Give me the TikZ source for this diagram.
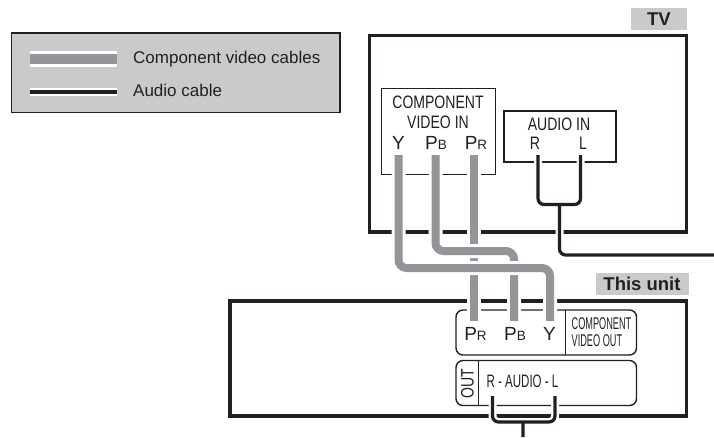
\documentclass[tikz,border=0pt]{standalone}
\usepackage{fontspec}
\setmainfont{Liberation Sans}
\newfontfamily\narrowfont[FakeStretch=0.78]{Liberation Sans}
\newfontfamily\tightfont[FakeStretch=0.64]{Liberation Sans}
\newfontfamily\slimfont[FakeStretch=0.54]{Liberation Sans}
\usepackage{xcolor}
\definecolor{panelgray}{HTML}{C9CACC}
\definecolor{cablegray}{HTML}{939598}
\definecolor{inkdark}{HTML}{231F20}
\tikzset{
  unitline/.style={draw=inkdark,line width=3.4pt,fill=white},
  inputbox/.style={draw=inkdark,line width=0.9pt},
  portbox/.style={draw=inkdark,line width=1.4pt,rounded corners=7pt},
  videocable/.style={draw=white,line width=3pt,double=cablegray,double distance=8pt,rounded corners=8pt},
  audiocable/.style={draw=inkdark,line width=3.2pt,rounded corners=6pt,
    preaction={draw=white,line width=8pt}},
  tag/.style={fill=panelgray,inner sep=0pt,text=inkdark,font=\fontsize{18.5}{18.5}\selectfont\bfseries},
  porttext/.style={text=inkdark,inner sep=0pt,font=\fontsize{19}{19}\selectfont},
  narrowtext/.style={text=inkdark,inner sep=0pt,font=\narrowfont\fontsize{18}{18}\selectfont},
  legendtext/.style={text=inkdark,inner sep=0pt,anchor=west,font=\fontsize{17}{17}\selectfont}
}
\newcommand{\portsub}[2]{#1{\fontsize{13.5}{13.5}\selectfont #2}}
\begin{document}
\begin{tikzpicture}[x=1pt,y=-1pt]
  \useasboundingbox (0,0) rectangle (714,437);
  % legend
  \draw[draw=inkdark,line width=1.1pt,fill=panelgray](11.5,33)rectangle(340,112.5);
  \draw[white,line width=16pt](30,59)--(117,59);
  \draw[cablegray,line width=10pt](30,59)--(117,59);
  \draw[white,line width=8pt](30,92)--(117,92);
  \draw[inkdark,line width=3.6pt](30,92)--(117,92);
  \node[legendtext](legendvideo)at(133,59){Component video cables};
  \node[legendtext](legendaudio)at(133,90.5){Audio cable};
  % TV
  \draw[unitline](369.5,35.5)rectangle(686.5,232);
  \node[tag,minimum width=56pt,minimum height=22pt](tvtag)at(659,19){TV};
  \draw[inputbox](381,88)rectangle(495,174);
  \draw[inkdark,line width=1.6pt](504,111)rectangle(616,162);
  \node[narrowtext,align=center,font=\narrowfont\fontsize{18}{20}\selectfont](videoin)at(438,112){COMPONENT\\VIDEO IN};
  \node[porttext](tvy)at(398.5,143){Y};
  \node[porttext](tvpb)at(436,143){\portsub{P}{B}};
  \node[porttext](tvpr)at(476,143){\portsub{P}{R}};
  \node[narrowtext](audioin)at(559,124.5){AUDIO IN};
  \node[narrowtext](tvr)at(535,143){R};
  \node[narrowtext](tvl)at(583,143){L};
  % this unit
  \draw[unitline](230,301)rectangle(686.5,416);
  \node[tag,minimum width=93pt,minimum height=22pt](unittag)at(642,284){This unit};
  \draw[portbox,fill=white](456,310)rectangle(636.5,355);
  \draw[inkdark,line width=1.4pt](565.5,310)--(565.5,355);
  \draw[portbox,fill=white](456,360.5)rectangle(636.5,405.5);
  \draw[inkdark,line width=1.4pt](478.5,360.5)--(478.5,405.5);
  \node[porttext](unitpr)at(475.5,333.5){\portsub{P}{R}};
  \node[porttext](unitpb)at(515,333.5){\portsub{P}{B}};
  \node[porttext](unity)at(549.5,334){Y};
  \node[text=inkdark,align=left,inner sep=0pt,font=\slimfont\fontsize{17}{17}\selectfont](videoout)at(601.5,332.5){COMPONENT\\VIDEO OUT};
  \node[narrowtext,rotate=90](outlabel)at(467.5,383.5){OUT};
  \node[text=inkdark,inner sep=0pt,font=\tightfont\fontsize{18}{18}\selectfont](audioout)at(522.5,381.5){R - AUDIO - L};
  % cables
  \coordinate(ytop)at(398.5,155);
  \coordinate(pbtop)at(435.5,155);
  \coordinate(prtop)at(474,155);
  \coordinate(ybot)at(550,321);
  \coordinate(pbbot)at(514,321);
  \coordinate(prbot)at(474,321);
  \draw[videocable](prtop)--(prbot);
  \draw[videocable](pbtop)|-(475,251)-|(pbbot);
  \draw[videocable](ytop)|-(475,268)-|(ybot);
  \coordinate(tvaudior)at(538,155);
  \coordinate(tvaudiol)at(580.5,155);
  \coordinate(tvjoin)at(559.5,204.5);
  \coordinate(tvrun)at(714,255);
  \draw[audiocable](tvaudior)|-(tvjoin)-|(tvaudiol)(tvjoin)|-(tvrun);
  \coordinate(outr)at(492.5,396);
  \coordinate(outl)at(555,396);
  \coordinate(outjoin)at(523,422);
  \coordinate(outrun)at(523,437);
  \draw[audiocable](outr)|-(outjoin)-|(outl)(outjoin)--(outrun);
\end{tikzpicture}
\end{document}
